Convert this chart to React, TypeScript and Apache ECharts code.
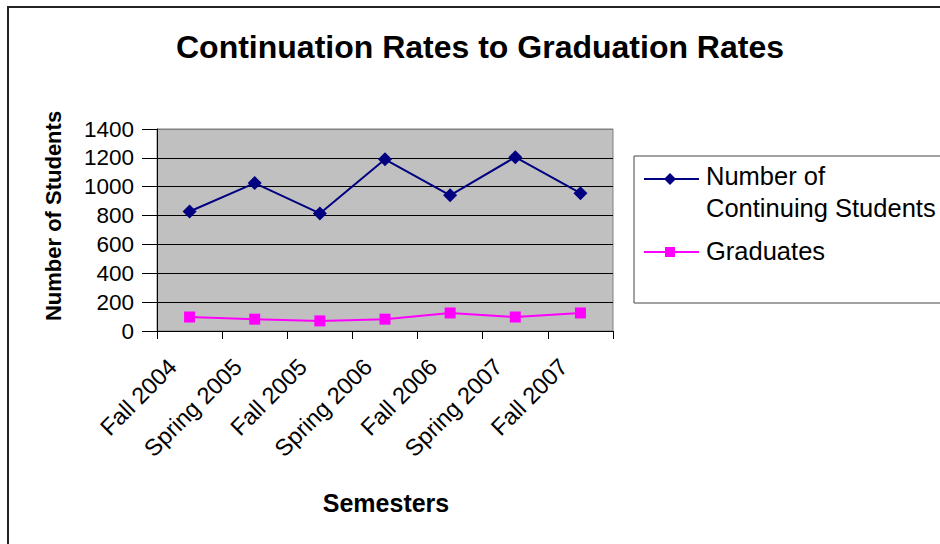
import React, { useEffect, useRef } from "react";
import * as echarts from "echarts";

const categories = ["Fall 2004", "Spring 2005", "Fall 2005", "Spring 2006", "Fall 2006", "Spring 2007", "Fall 2007"];
const continuing = [828, 1025, 815, 1190, 940, 1205, 955];
const graduates = [97, 82, 70, 82, 125, 97, 125];
const yTicks = { min: 0, max: 1400, interval: 200 };

const FONT = "'Liberation Sans', Arial, sans-serif";

export default function App() {
  const ref = useRef<HTMLDivElement>(null);
  useEffect(() => {
    if (!ref.current) return;
    const chart = echarts.init(ref.current, null, { renderer: "svg" });
    chart.setOption({
      animation: false,
      backgroundColor: "#ffffff",
      textStyle: { fontFamily: FONT },
      grid: {
        left: 157,
        top: 129,
        right: 327,
        bottom: 213,
        show: true,
        backgroundColor: "#C0C0C0",
        borderColor: "#808080",
        borderWidth: 1,
      },
      xAxis: {
        type: "category",
        data: categories,
        boundaryGap: true,
        axisLine: { show: true, lineStyle: { color: "#000", width: 1 } },
        axisTick: { show: true, length: 8, lineStyle: { color: "#000" } },
        axisLabel: {
          rotate: 45,
          fontSize: 23.5,
          color: "#000",
          fontFamily: FONT,
          margin: 15,
          padding: [0, 24, 0, 0],
        },
        splitLine: { show: false },
      },
      yAxis: {
        type: "value",
        min: yTicks.min,
        max: yTicks.max,
        interval: yTicks.interval,
        axisLine: { show: true, lineStyle: { color: "#000", width: 1 } },
        axisTick: { show: true, length: 15, lineStyle: { color: "#000" } },
        axisLabel: {
          fontSize: 22.5,
          color: "#000",
          fontFamily: FONT,
          margin: 23,
          formatter: (v: number) => String(v),
        },
        splitLine: {
          show: true,
          lineStyle: {
            color: ["#000", "#000", "#000", "#000", "#000", "#000", "#000", "#808080"],
            width: 1,
          },
        },
      },
      series: [
        {
          name: "Number of Continuing Students",
          type: "line",
          data: continuing,
          symbol: "diamond",
          symbolSize: 14,
          itemStyle: { color: "#000080" },
          lineStyle: { color: "#000080", width: 2 },
        },
        {
          name: "Graduates",
          type: "line",
          data: graduates,
          symbol: "rect",
          symbolSize: 11,
          itemStyle: { color: "#FF00FF" },
          lineStyle: { color: "#FF00FF", width: 2 },
        },
      ],
      graphic: [
        {
          type: "rect",
          shape: { x: 8, y: 7, width: 1000, height: 1000 },
          style: { fill: "none", stroke: "#222", lineWidth: 2 },
          silent: true,
        },
        {
          type: "text",
          x: 480,
          y: 47,
          style: {
            text: "Continuation Rates to Graduation Rates",
            font: `bold 32px ${FONT}`,
            fill: "#000",
            align: "center",
            verticalAlign: "middle",
          },
        },
        {
          type: "text",
          x: 53,
          y: 216,
          rotation: Math.PI / 2,
          style: {
            text: "Number of Students",
            font: `bold 22px ${FONT}`,
            fill: "#000",
            align: "center",
            verticalAlign: "middle",
          },
        },
        {
          type: "text",
          x: 386,
          y: 503,
          style: {
            text: "Semesters",
            font: `bold 25px ${FONT}`,
            fill: "#000",
            align: "center",
            verticalAlign: "middle",
          },
        },
        {
          type: "rect",
          shape: { x: 634, y: 156, width: 400, height: 147 },
          style: { fill: "#fff", stroke: "#444", lineWidth: 1 },
        },
        {
          type: "line",
          shape: { x1: 644, y1: 179, x2: 699, y2: 179 },
          style: { stroke: "#000080", lineWidth: 2 },
        },
        {
          type: "polygon",
          shape: { points: [[670, 173], [676, 179], [670, 185], [664, 179]] },
          style: { fill: "#000080" },
        },
        {
          type: "text",
          x: 706,
          y: 176,
          style: {
            text: "Number of",
            font: `25.5px ${FONT}`,
            fill: "#000",
            align: "left",
            verticalAlign: "middle",
          },
        },
        {
          type: "text",
          x: 706,
          y: 208,
          style: {
            text: "Continuing Students",
            font: `25.5px ${FONT}`,
            fill: "#000",
            align: "left",
            verticalAlign: "middle",
          },
        },
        {
          type: "line",
          shape: { x1: 644, y1: 252, x2: 699, y2: 252 },
          style: { stroke: "#FF00FF", lineWidth: 2 },
        },
        {
          type: "rect",
          shape: { x: 665, y: 247, width: 10, height: 10 },
          style: { fill: "#FF00FF" },
        },
        {
          type: "text",
          x: 706,
          y: 251,
          style: {
            text: "Graduates",
            font: `25.5px ${FONT}`,
            fill: "#000",
            align: "left",
            verticalAlign: "middle",
          },
        },
      ],
    });
    return () => chart.dispose();
  }, []);
  return (
    <div
      ref={ref}
      style={{ position: "fixed", left: 0, top: 0, width: 940, height: 544 }}
    />
  );
}
